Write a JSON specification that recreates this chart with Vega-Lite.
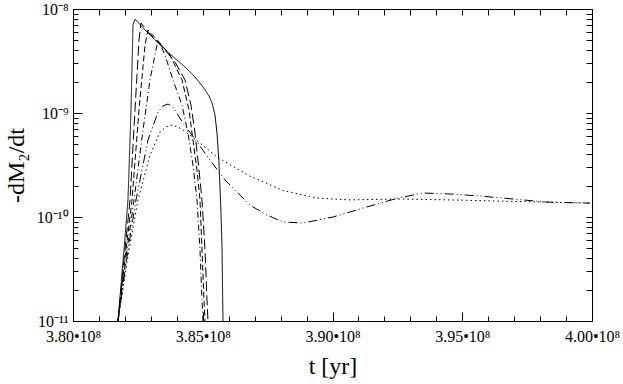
{
  "$schema": "https://vega.github.io/schema/vega-lite/v6.json",
  "width": 519,
  "height": 312,
  "autosize": {"type": "none"},
  "padding": {"left": 73, "top": 9, "right": 31, "bottom": 63},
  "background": "white",
  "config": {
    "view": {"stroke": "black"},
    "axis": {
      "grid": false,
      "labelFont": "Liberation Serif",
      "labelFontSize": 16,
      "labelColor": "black",
      "titleFont": "Liberation Serif",
      "titleFontSize": 24,
      "titleFontWeight": "normal",
      "titleColor": "black",
      "domainColor": "black",
      "tickColor": "black"
    }
  },
  "data": {
    "values": [
      {"s": "a", "t": 381734000, "v": 1.0e-11},
      {"s": "a", "t": 381965000, "v": 4.82e-11},
      {"s": "a", "t": 382119000, "v": 1.46e-10},
      {"s": "a", "t": 382235000, "v": 1.07e-9},
      {"s": "a", "t": 382312000, "v": 7.02e-9},
      {"s": "a", "t": 382389000, "v": 8.01e-9},
      {"s": "a", "t": 382775000, "v": 6.28e-9},
      {"s": "a", "t": 383237000, "v": 4.82e-9},
      {"s": "a", "t": 383738000, "v": 3.69e-9},
      {"s": "a", "t": 384316000, "v": 2.77e-9},
      {"s": "a", "t": 384701000, "v": 2.22e-9},
      {"s": "a", "t": 385010000, "v": 1.78e-9},
      {"s": "a", "t": 385241000, "v": 1.46e-9},
      {"s": "a", "t": 385357000, "v": 1.25e-9},
      {"s": "a", "t": 385472000, "v": 9.57e-10},
      {"s": "a", "t": 385549000, "v": 6.42e-10},
      {"s": "a", "t": 385626000, "v": 3.30e-10},
      {"s": "a", "t": 385703000, "v": 1.09e-10},
      {"s": "a", "t": 385742000, "v": 5.15e-11},
      {"s": "a", "t": 385780000, "v": 1.0e-11},

      {"s": "b", "t": 381734000, "v": 1.0e-11},
      {"s": "b", "t": 382004000, "v": 4.82e-11},
      {"s": "b", "t": 382197000, "v": 1.46e-10},
      {"s": "b", "t": 382389000, "v": 1.07e-9},
      {"s": "b", "t": 382543000, "v": 5.03e-9},
      {"s": "b", "t": 382620000, "v": 7.33e-9},
      {"s": "b", "t": 382967000, "v": 5.75e-9},
      {"s": "b", "t": 383353000, "v": 4.61e-9},
      {"s": "b", "t": 383931000, "v": 3.09e-9},
      {"s": "b", "t": 384316000, "v": 2.08e-9},
      {"s": "b", "t": 384547000, "v": 1.19e-9},
      {"s": "b", "t": 384701000, "v": 6.42e-10},
      {"s": "b", "t": 384856000, "v": 2.83e-10},
      {"s": "b", "t": 384971000, "v": 1.46e-10},
      {"s": "b", "t": 385087000, "v": 4.82e-11},
      {"s": "b", "t": 385164000, "v": 1.59e-11},
      {"s": "b", "t": 385202000, "v": 1.0e-11},

      {"s": "c", "t": 381734000, "v": 1.0e-11},
      {"s": "c", "t": 382042000, "v": 4.82e-11},
      {"s": "c", "t": 382274000, "v": 1.46e-10},
      {"s": "c", "t": 382543000, "v": 1.07e-9},
      {"s": "c", "t": 382775000, "v": 4.51e-9},
      {"s": "c", "t": 382890000, "v": 6.28e-9},
      {"s": "c", "t": 383353000, "v": 4.71e-9},
      {"s": "c", "t": 383738000, "v": 3.61e-9},
      {"s": "c", "t": 384200000, "v": 2.08e-9},
      {"s": "c", "t": 384470000, "v": 1.07e-9},
      {"s": "c", "t": 384586000, "v": 6.42e-10},
      {"s": "c", "t": 384778000, "v": 2.83e-10},
      {"s": "c", "t": 384894000, "v": 1.46e-10},
      {"s": "c", "t": 384971000, "v": 4.82e-11},
      {"s": "c", "t": 385048000, "v": 1.59e-11},
      {"s": "c", "t": 385087000, "v": 1.0e-11},

      {"s": "d", "t": 381734000, "v": 1.0e-11},
      {"s": "d", "t": 382081000, "v": 4.82e-11},
      {"s": "d", "t": 382351000, "v": 1.46e-10},
      {"s": "d", "t": 382698000, "v": 6.87e-10},
      {"s": "d", "t": 382967000, "v": 2.08e-9},
      {"s": "d", "t": 383237000, "v": 4.51e-9},
      {"s": "d", "t": 383353000, "v": 4.61e-9},
      {"s": "d", "t": 383545000, "v": 3.61e-9},
      {"s": "d", "t": 383854000, "v": 2.08e-9},
      {"s": "d", "t": 384200000, "v": 1.19e-9},
      {"s": "d", "t": 384432000, "v": 6.42e-10},
      {"s": "d", "t": 384624000, "v": 3.16e-10},
      {"s": "d", "t": 384778000, "v": 1.46e-10},
      {"s": "d", "t": 384894000, "v": 4.82e-11},
      {"s": "d", "t": 384971000, "v": 1.59e-11},
      {"s": "d", "t": 385010000, "v": 1.0e-11},

      {"s": "e", "t": 381734000, "v": 1.0e-11},
      {"s": "e", "t": 382119000, "v": 4.82e-11},
      {"s": "e", "t": 382428000, "v": 1.46e-10},
      {"s": "e", "t": 382890000, "v": 5.50e-10},
      {"s": "e", "t": 383276000, "v": 1.02e-9},
      {"s": "e", "t": 383468000, "v": 1.17e-9},
      {"s": "e", "t": 383661000, "v": 1.22e-9},
      {"s": "e", "t": 383854000, "v": 1.14e-9},
      {"s": "e", "t": 384239000, "v": 8.02e-10},
      {"s": "e", "t": 384778000, "v": 5.26e-10},
      {"s": "e", "t": 385279000, "v": 3.53e-10},
      {"s": "e", "t": 385857000, "v": 2.27e-10},
      {"s": "e", "t": 386821000, "v": 1.30e-10},
      {"s": "e", "t": 387476000, "v": 1.045e-10},
      {"s": "e", "t": 388093000, "v": 8.95e-11},
      {"s": "e", "t": 388863000, "v": 8.75e-11},
      {"s": "e", "t": 390019000, "v": 1.0e-10},
      {"s": "e", "t": 391330000, "v": 1.25e-10},
      {"s": "e", "t": 392524000, "v": 1.52e-10},
      {"s": "e", "t": 393488000, "v": 1.70e-10},
      {"s": "e", "t": 394644000, "v": 1.66e-10},
      {"s": "e", "t": 395684000, "v": 1.59e-10},
      {"s": "e", "t": 396570000, "v": 1.52e-10},
      {"s": "e", "t": 398266000, "v": 1.39e-10},
      {"s": "e", "t": 399923000, "v": 1.36e-10},

      {"s": "f", "t": 381734000, "v": 1.0e-11},
      {"s": "f", "t": 382158000, "v": 4.82e-11},
      {"s": "f", "t": 382505000, "v": 1.46e-10},
      {"s": "f", "t": 382967000, "v": 3.94e-10},
      {"s": "f", "t": 383353000, "v": 6.57e-10},
      {"s": "f", "t": 383584000, "v": 7.33e-10},
      {"s": "f", "t": 383815000, "v": 7.67e-10},
      {"s": "f", "t": 384046000, "v": 7.33e-10},
      {"s": "f", "t": 384239000, "v": 6.87e-10},
      {"s": "f", "t": 384894000, "v": 5.15e-10},
      {"s": "f", "t": 385549000, "v": 3.77e-10},
      {"s": "f", "t": 386821000, "v": 2.47e-10},
      {"s": "f", "t": 388093000, "v": 1.80e-10},
      {"s": "f", "t": 389403000, "v": 1.52e-10},
      {"s": "f", "t": 390674000, "v": 1.46e-10},
      {"s": "f", "t": 392524000, "v": 1.49e-10},
      {"s": "f", "t": 394528000, "v": 1.46e-10},
      {"s": "f", "t": 396570000, "v": 1.42e-10},
      {"s": "f", "t": 398266000, "v": 1.39e-10},
      {"s": "f", "t": 399923000, "v": 1.36e-10}
    ]
  },
  "layer": [
    {
      "mark": {"type": "line", "strokeWidth": 1, "color": "black"},
      "encoding": {
        "x": {"field": "t", "type": "quantitative",
          "scale": {"domain": [380000000, 400000000], "nice": false, "zero": false},
          "axis": {"orient": "bottom", "values": [380000000, 385000000, 390000000, 395000000, 400000000],
            "labelExpr": "format(datum.value/1e8,'.2f') + '•10⁸'", "tickSize": -9, "labelPadding": 16,
            "labelFlush": false, "title": "t [yr]", "titlePadding": 10}},
        "y": {"field": "v", "type": "quantitative",
          "scale": {"type": "log", "domain": [1e-11, 1e-8], "nice": false},
          "axis": {"orient": "left", "values": [1e-11, 1e-10, 1e-9, 1e-8],
            "labelExpr": "round(log(datum.value)/LN10) == -8 ? '10⁻⁸' : round(log(datum.value)/LN10) == -9 ? '10⁻⁹' : round(log(datum.value)/LN10) == -10 ? '10⁻¹⁰' : '10⁻¹¹'",
            "tickSize": -9, "labelPadding": 14, "labelFlush": false,
            "title": "-dM₂/dt", "titlePadding": 8}},
        "strokeDash": {"field": "s", "type": "nominal",
          "scale": {"domain": ["a", "b", "c", "d", "e", "f"],
            "range": [[1, 0], [10, 4], [6, 3], [6, 3, 1, 3], [9, 3, 1, 3, 1, 3], [1.5, 3]]},
          "legend": null}
      }
    },
    {
      "mark": {"type": "line", "opacity": 0},
      "encoding": {
        "x": {"field": "t", "type": "quantitative",
          "scale": {"domain": [380000000, 400000000], "nice": false, "zero": false},
          "axis": {"orient": "top", "offset": -312, "labelOpacity": 0, "domain": false, "tickSize": 5, "title": null,
            "values": [380000000, 381000000, 382000000, 383000000, 384000000, 385000000, 386000000, 387000000, 388000000, 389000000, 390000000, 391000000, 392000000, 393000000, 394000000, 395000000, 396000000, 397000000, 398000000, 399000000, 400000000]}},
        "y": {"field": "v", "type": "quantitative",
          "scale": {"type": "log", "domain": [1e-11, 1e-8], "nice": false},
          "axis": {"orient": "right", "offset": -519, "labelOpacity": 0, "domain": false, "tickSize": 5, "title": null,
            "values": [1e-11, 2e-11, 3e-11, 4e-11, 5e-11, 6e-11, 7e-11, 8e-11, 9e-11, 1e-10, 2e-10, 3e-10, 4e-10, 5e-10, 6e-10, 7e-10, 8e-10, 9e-10, 1e-9, 2e-9, 3e-9, 4e-9, 5e-9, 6e-9, 7e-9, 8e-9, 9e-9, 1e-8]}},
        "detail": {"field": "s"}
      }
    },
    {
      "mark": {"type": "line", "opacity": 0},
      "encoding": {
        "x": {"field": "t", "type": "quantitative",
          "scale": {"domain": [380000000, 400000000], "nice": false, "zero": false},
          "axis": {"orient": "bottom", "offset": -312, "labelOpacity": 0, "domain": true, "tickSize": 6, "title": null,
            "values": [380000000, 381000000, 382000000, 383000000, 384000000, 385000000, 386000000, 387000000, 388000000, 389000000, 390000000, 391000000, 392000000, 393000000, 394000000, 395000000, 396000000, 397000000, 398000000, 399000000, 400000000]}},
        "y": {"field": "v", "type": "quantitative",
          "scale": {"type": "log", "domain": [1e-11, 1e-8], "nice": false},
          "axis": {"orient": "left", "offset": -519, "labelOpacity": 0, "domain": true, "tickSize": 6, "title": null,
            "values": [1e-11, 2e-11, 3e-11, 4e-11, 5e-11, 6e-11, 7e-11, 8e-11, 9e-11, 1e-10, 2e-10, 3e-10, 4e-10, 5e-10, 6e-10, 7e-10, 8e-10, 9e-10, 1e-9, 2e-9, 3e-9, 4e-9, 5e-9, 6e-9, 7e-9, 8e-9, 9e-9, 1e-8]}},
        "detail": {"field": "s"}
      }
    }
  ],
  "resolve": {"scale": {"x": "independent", "y": "independent"}}
}
